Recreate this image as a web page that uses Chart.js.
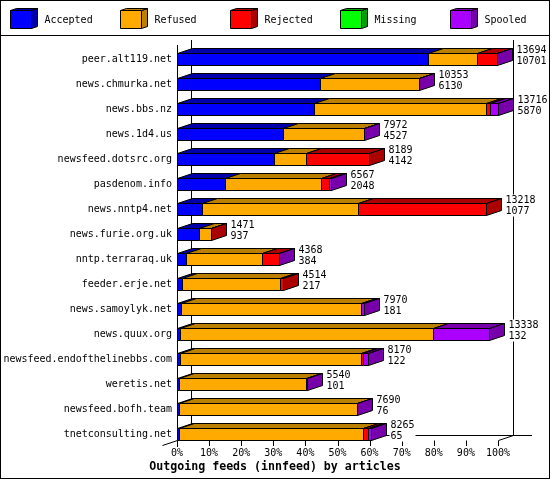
<!DOCTYPE html>
<html>
<head>
<meta charset="utf-8">
<style>
  html, body { margin: 0; padding: 0; background: #fff; }
  canvas { display: block; }
</style>
<script src="https://cdn.jsdelivr.net/npm/chart.js@4"></script>
</head>
<body>
<canvas id="chart" width="550" height="480"></canvas>
<script>
const feeds = ['peer.alt119.net', 'news.chmurka.net', 'news.bbs.nz', 'news.1d4.us', 'newsfeed.dotsrc.org', 'pasdenom.info', 'news.nntp4.net', 'news.furie.org.uk', 'nntp.terraraq.uk', 'feeder.erje.net', 'news.samoylyk.net', 'news.quux.org', 'newsfeed.endofthelinebbs.com', 'weretis.net', 'newsfeed.bofh.team', 'tnetconsulting.net'];

// bar lengths, percent of the axis
const accepted = [78.1, 44.4, 42.7, 33.0, 30.1, 14.9, 7.8, 6.8, 2.8, 1.6, 1.3, 1.0, 0.9, 0.7, 0.6, 0.5];
const refused = [15.5, 31.0, 53.7, 25.1, 10.0, 29.9, 48.5, 3.8, 23.6, 30.4, 56.1, 78.8, 56.3, 39.5, 55.4, 57.5];
const rejected = [6.1, 0, 1.2, 0, 19.6, 2.7, 40.1, 0.1, 5.4, 0.9, 0, 0, 0.6, 0, 0, 1.6];
const missing = [0, 0, 0, 0, 0, 0, 0, 0, 0, 0, 0, 0, 0, 0, 0, 0];
const spooled = [0.1, 0.1, 2.4, 0.1, 0, 0.4, 0, 0, 0.1, 0, 0.7, 17.4, 1.8, 0.2, 0.1, 0.7];

// numbers printed at the end of each bar
const totals = [13694, 10353, 13716, 7972, 8189, 6567, 13218, 1471, 4368, 4514, 7970, 13338, 8170, 5540, 7690, 8265];
const counts = [10701, 6130, 5870, 4527, 4142, 2048, 1077, 937, 384, 217, 181, 132, 122, 101, 76, 65];

const seriesNames = ['Accepted', 'Refused', 'Rejected', 'Missing', 'Spooled'];
const seriesValues = [accepted, refused, rejected, missing, spooled];
const frontColors = ['#0000ff', '#ffaa00', '#ff0000', '#00ff00', '#aa00ff'];
const shadeColors = ['#0000aa', '#bb8000', '#aa0000', '#00a000', '#7700aa'];

const MONO = '"DejaVu Sans Mono", monospace';
const DX = 15; // depth of the 3d effect
const DY = 5;

function poly(ctx, pts, fill) {
  ctx.beginPath();
  pts.forEach((p, i) => (i ? ctx.lineTo(p[0], p[1]) : ctx.moveTo(p[0], p[1])));
  ctx.closePath();
  ctx.fillStyle = fill;
  ctx.fill();
  ctx.stroke();
}

function line(ctx, x1, y1, x2, y2) {
  ctx.beginPath();
  ctx.moveTo(x1, y1);
  ctx.lineTo(x2, y2);
  ctx.stroke();
}

const frame3d = {
  id: 'frame3d',
  beforeDatasetsDraw(chart) {
    const ctx = chart.ctx;
    const x = chart.scales.x;
    const left = Math.round(x.getPixelForValue(0)) + 0.5;
    const right = Math.round(x.getPixelForValue(100)) + 0.5;
    const base = 440.5;
    ctx.save();
    ctx.strokeStyle = '#000';
    ctx.lineWidth = 1;
    // back wall
    line(ctx, left + DX - 1, 40, left + DX - 1, base - DY);
    line(ctx, right + DX, 40, right + DX, base - DY);
    line(ctx, left + DX - 1, base - DY, 532, base - DY);
    // floor edges
    line(ctx, left, 45, left, 447);
    line(ctx, left - DX, base + DY, left + DX, base - DY);
    line(ctx, right, base, right + DX, base - DY);
    x.ticks.forEach((t) => {
      const px = Math.round(x.getPixelForValue(t.value)) + 0.5;
      line(ctx, px, base, px, 446);
    });
    ctx.restore();
  },
  afterDatasetsDraw(chart) {
    const ctx = chart.ctx;
    ctx.save();
    ctx.strokeStyle = '#000';
    ctx.lineWidth = 1;
    feeds.forEach((name, row) => {
      let lastEnd = 0;
      let lastShade = null;
      let top = 0;
      seriesValues.forEach((vals, s) => {
        if (!vals[row]) return;
        const bar = chart.getDatasetMeta(s).data[row];
        top = Math.floor(bar.y - 6) + 0.5;
        const x1 = Math.round(bar.base) + 0.5;
        const x2 = Math.round(bar.x) + 0.5;
        // top face, then the front again on whole pixels so the outline stays solid black
        poly(ctx, [[x1, top], [x2, top], [x2 + DX, top - DY], [x1 + DX, top - DY]], shadeColors[s]);
        poly(ctx, [[x1, top], [x2, top], [x2, top + 12], [x1, top + 12]], frontColors[s]);
        lastEnd = x2;
        lastShade = shadeColors[s];
      });
      poly(ctx, [[lastEnd, top], [lastEnd + DX, top - DY], [lastEnd + DX, top + 12 - DY], [lastEnd, top + 12]], lastShade);

      // numbers to the right of the bar, these mask the wall lines
      ctx.font = '10px ' + MONO;
      ctx.textAlign = 'left';
      ctx.textBaseline = 'middle';
      const tx = lastEnd + 19;
      const w = Math.max(String(totals[row]).length, String(counts[row]).length) * 6;
      ctx.fillStyle = '#fff';
      ctx.fillRect(tx - 1, top - 9, w + 2, 22);
      ctx.fillStyle = '#000';
      ctx.fillText(totals[row], tx, top - 3);
      ctx.fillText(counts[row], tx, top + 8);
    });
    ctx.restore();
  },
  afterDraw(chart) {
    const ctx = chart.ctx;
    ctx.save();
    ctx.strokeStyle = '#000';
    ctx.lineWidth = 1;
    ctx.strokeRect(0.5, 0.5, 549, 478);
    line(ctx, 0, 35.5, 550, 35.5);
    // legend cubes
    ctx.font = '10px ' + MONO;
    ctx.textBaseline = 'middle';
    ctx.textAlign = 'left';
    seriesNames.forEach((name, i) => {
      const bx = 10.5 + i * 110;
      poly(ctx, [[bx + 21, 10.5], [bx + 27, 8.5], [bx + 27, 26.5], [bx + 21, 28.5]], shadeColors[i]);
      poly(ctx, [[bx, 10.5], [bx + 6, 8.5], [bx + 27, 8.5], [bx + 21, 10.5]], shadeColors[i]);
      poly(ctx, [[bx, 10.5], [bx + 21, 10.5], [bx + 21, 28.5], [bx, 28.5]], frontColors[i]);
      ctx.fillStyle = '#000';
      ctx.fillText(name, bx + 34, 20.5);
    });
    ctx.restore();
  },
};

new Chart(document.getElementById('chart'), {
  type: 'bar',
  data: {
    labels: feeds,
    datasets: seriesNames.map((name, i) => ({
      label: name,
      data: seriesValues[i],
      backgroundColor: frontColors[i],
      borderWidth: 0,
      inflateAmount: 0,
      barThickness: 12,
    })),
  },
  options: {
    indexAxis: 'y',
    responsive: false,
    devicePixelRatio: 1,
    animation: false,
    layout: { padding: { top: 46.5, right: 0, left: 0, bottom: 0 } },
    plugins: {
      legend: { display: false },
      tooltip: { enabled: false },
      title: {
        display: true,
        position: 'bottom',
        text: 'Outgoing feeds (innfeed) by articles',
        color: '#000',
        font: { family: MONO, size: 11.6, weight: 'bold' },
        padding: { top: 0, bottom: 6 },
      },
    },
    scales: {
      x: {
        stacked: true,
        min: 0,
        max: 100,
        grid: { display: false, drawTicks: false },
        border: { display: false },
        afterFit(scale) { scale.height = 13.58; },
        ticks: {
          stepSize: 10,
          autoSkip: false,
          maxRotation: 0,
          padding: 1,
          color: '#000',
          font: { family: MONO, size: 10 },
          callback: (v) => v + '%',
        },
      },
      y: {
        stacked: true,
        grid: { display: false, drawTicks: false },
        border: { display: false },
        afterFit(scale) { scale.width = 177; },
        ticks: {
          autoSkip: false,
          padding: 5,
          color: '#000',
          font: { family: MONO, size: 10 },
        },
      },
      // empty axis, only keeps the room right of the plot so the title centres on the page
      yRoom: {
        type: 'linear',
        position: 'right',
        grid: { display: false, drawTicks: false },
        border: { display: false },
        ticks: { display: false },
        afterFit(scale) { scale.width = 52; },
      },
    },
  },
  plugins: [frame3d],
});
</script>
</body>
</html>
